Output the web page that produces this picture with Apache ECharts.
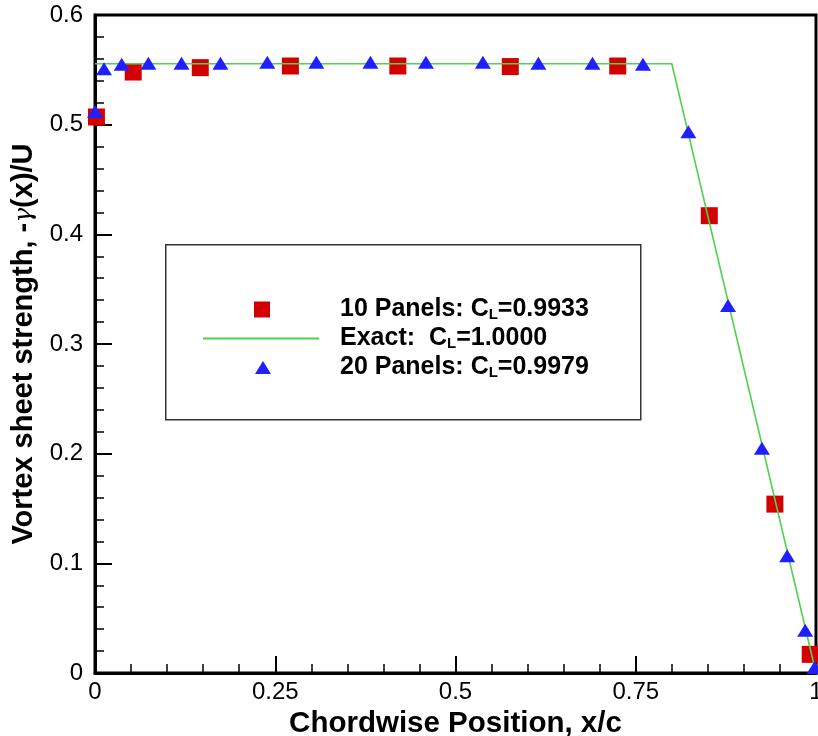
<!DOCTYPE html>
<html>
<head>
<meta charset="utf-8">
<script src="https://cdn.jsdelivr.net/npm/echarts@6/dist/echarts.min.js"></script>
<style>html,body{margin:0;padding:0;background:#fff}#c{width:818px;height:736px}</style>
</head>
<body>
<div id="c"></div>
<script>
// 10 panels (red squares)
var panels10X = [0.002, 0.053, 0.146, 0.271, 0.420, 0.576, 0.725, 0.852, 0.943, 0.992];
var panels10Y = [0.507, 0.548, 0.552, 0.5535, 0.5535, 0.553, 0.5535, 0.417, 0.154, 0.017];
// 20 panels (blue triangles)
var panels20X = [0.000, 0.0125, 0.037, 0.074, 0.120, 0.174, 0.239, 0.307, 0.382, 0.459, 0.538, 0.615, 0.690, 0.760, 0.823, 0.878, 0.925, 0.960, 0.985, 0.998];
var panels20Y = [0.512, 0.551, 0.555, 0.556, 0.556, 0.556, 0.557, 0.557, 0.557, 0.557, 0.557, 0.556, 0.556, 0.555, 0.4936, 0.335, 0.205, 0.107, 0.039, 0.005];
// exact solution
var exactX = [0, 0.8, 1.0];
var exactY = [0.5556, 0.5556, 0.0];
var xTicks = [0, 0.25, 0.5, 0.75, 1];
var yTicks = [0, 0.1, 0.2, 0.3, 0.4, 0.5, 0.6];
var legendNames = ['10 Panels: C{s|L}=0.9933', 'Exact:  C{s|L}=1.0000', '20 Panels: C{s|L}=0.9979'];

function zip(a, b) { return a.map(function (v, i) { return [v, b[i]]; }); }

var FONT = "'Liberation Sans', Arial, Helvetica, sans-serif";
var legendText = function (padLeft) {
  return {fontFamily: FONT, fontSize: 25, fontWeight: 'bold', color: '#000', padding: [0, 0, 0, padLeft],
    rich: {s: {fontFamily: FONT, fontSize: 15, fontWeight: 'bold', color: '#000', padding: [10, 0, 0, 0]}}};
};
var chart = echarts.init(document.getElementById('c'), null, {renderer: 'canvas'});
var option = {
  backgroundColor: '#fff',
  animation: false,
  grid: {left: 95, right: 2, top: 15, bottom: 63, show: true, borderColor: '#000', borderWidth: 3,
    backgroundColor: 'transparent', containLabel: false, outerBoundsMode: 'none'},
  xAxis: {
    type: 'value', min: xTicks[0], max: xTicks[xTicks.length - 1], interval: 0.25,
    name: 'Chordwise Position, x/c', nameLocation: 'middle', nameGap: 27,
    nameTextStyle: {fontFamily: FONT, fontSize: 29.5, fontWeight: 'bold', color: '#000'},
    axisLine: {lineStyle: {color: '#000', width: 3}},
    axisTick: {inside: true, length: 17, lineStyle: {color: '#000', width: 2}},
    minorTick: {show: true, splitNumber: 5, length: 9, lineStyle: {color: '#000', width: 1.5}},
    splitLine: {show: false},
    axisLabel: {fontFamily: FONT, fontSize: 24, color: '#000', margin: 7, hideOverlap: false,
      formatter: function (v) { return String(+v.toFixed(2)); }}
  },
  yAxis: {
    type: 'value', min: yTicks[0], max: yTicks[yTicks.length - 1], interval: 0.1,
    name: 'Vortex sheet strength, -{g|γ}(x)/U', nameLocation: 'middle', nameGap: 51,
    nameTextStyle: {fontFamily: FONT, fontSize: 29, fontWeight: 'bold', color: '#000',
      rich: {g: {fontFamily: "'DejaVu Serif', serif", fontStyle: 'italic', fontSize: 25, fontWeight: 'normal', color: '#000'}}},
    axisLine: {lineStyle: {color: '#000', width: 3}},
    axisTick: {inside: true, length: 17, lineStyle: {color: '#000', width: 2}},
    minorTick: {show: true, splitNumber: 5, length: 9, lineStyle: {color: '#000', width: 1.5}},
    splitLine: {show: false},
    axisLabel: {fontFamily: FONT, fontSize: 24, color: '#000', margin: 12, hideOverlap: false,
      formatter: function (v) { return String(+v.toFixed(2)); }}
  },
  legend: [
    {orient: 'vertical', left: 254, top: 297, padding: 0, data: [legendNames[0]], itemWidth: 16, itemHeight: 16,
      selectedMode: false, textStyle: legendText(65)},
    {orient: 'vertical', left: 203, top: 326, padding: 0, data: [{name: legendNames[1], icon: 'rect'}], itemWidth: 116, itemHeight: 2,
      selectedMode: false, textStyle: legendText(16)},
    {orient: 'vertical', left: 255, top: 355, padding: 0, data: [legendNames[2]], itemWidth: 16, itemHeight: 13,
      selectedMode: false, textStyle: legendText(64)}
  ],
  graphic: [{
    type: 'rect', left: 165, top: 244, z: -1,
    shape: {width: 475, height: 175},
    style: {fill: '#fff', stroke: '#333', lineWidth: 1.5}
  }],
  series: [
    {name: legendNames[0], type: 'scatter', data: zip(panels10X, panels10Y), symbol: 'rect', symbolSize: 17,
      itemStyle: {color: '#d40000', opacity: 1}, z: 2},
    {name: legendNames[1], type: 'line', data: zip(exactX, exactY), symbol: 'none', showSymbol: false,
      lineStyle: {color: '#4fd24f', width: 1.6}, itemStyle: {color: '#4fd24f'}, z: 3},
    {name: legendNames[2], type: 'scatter', data: zip(panels20X, panels20Y), symbol: 'triangle', symbolSize: [16, 13],
      itemStyle: {color: '#2020ff', opacity: 1}, z: 4}
  ]
};
chart.setOption(option);
</script>
</body>
</html>
